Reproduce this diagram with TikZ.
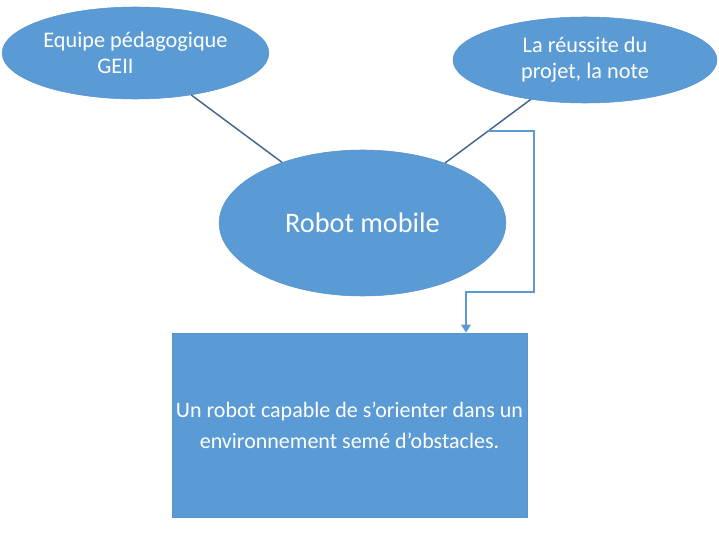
\documentclass[tikz,border=0pt]{standalone}
\usepackage{fontspec}
\setmainfont{Carlito}
\usepackage{tikz}
\usetikzlibrary{
  positioning,
  arrows.meta,
  shapes.geometric
}
\definecolor{bullebg}{RGB}{91,155,213}
\definecolor{bulleborder}{RGB}{86,148,206}
\definecolor{liaisoncolor}{RGB}{68,100,145}
\tikzset{
  bullenode/.style={
    ellipse, draw=bulleborder, fill=bullebg, inner sep=0pt,
    text=white, font=\fontsize{16.7}{19.5}\selectfont, align=center
  },
  fonctionbox/.style={
    rectangle, draw=bulleborder, fill=bullebg, inner sep=0pt,
    text=white, font=\fontsize{16.5}{23.25}\selectfont, align=center
  },
  liaison/.style={
    line width=1.1pt, draw=liaisoncolor
  },
  coudearrow/.style={
    -{Triangle[length=6pt,width=7pt]}, line width=1.4pt, draw=bullebg
  }
}

\begin{document}
\begin{tikzpicture}[x=0.75pt, y=-0.75pt]
    \useasboundingbox (0,0) rectangle (719,545);

    % Bulles
    \node[bullenode, minimum width=200pt, minimum height=69pt, align=left] (equipe) at (135.5,53) {Equipe pédagogique\\\hspace*{40.5pt}GEII};

    \node[bullenode, minimum width=198pt, minimum height=64.5pt] (reussite) at (585,60) {La réussite du\\projet, la note};

    \node[bullenode, minimum width=215pt, minimum height=109.5pt, font=\fontsize{21.2}{25}\selectfont] (robot) at (362.5,223) {Robot mobile};

    \node[fonctionbox, minimum width=266.25pt, minimum height=138pt] (fonction) at (349.5,425) {Un robot capable de s’orienter dans un\\environnement semé d’obstacles.};

    % Liaisons
    \draw[liaison] (equipe.-37) -- (robot.143);
    \draw[liaison] (reussite.216) -- coordinate[pos=0.5] (milieu) (robot.36);
    \draw[coudearrow] (milieu) -- ++(46,0) -- ++(0,161) -| ([xshift=87.4pt]fonction.north);

\end{tikzpicture}
\end{document}
